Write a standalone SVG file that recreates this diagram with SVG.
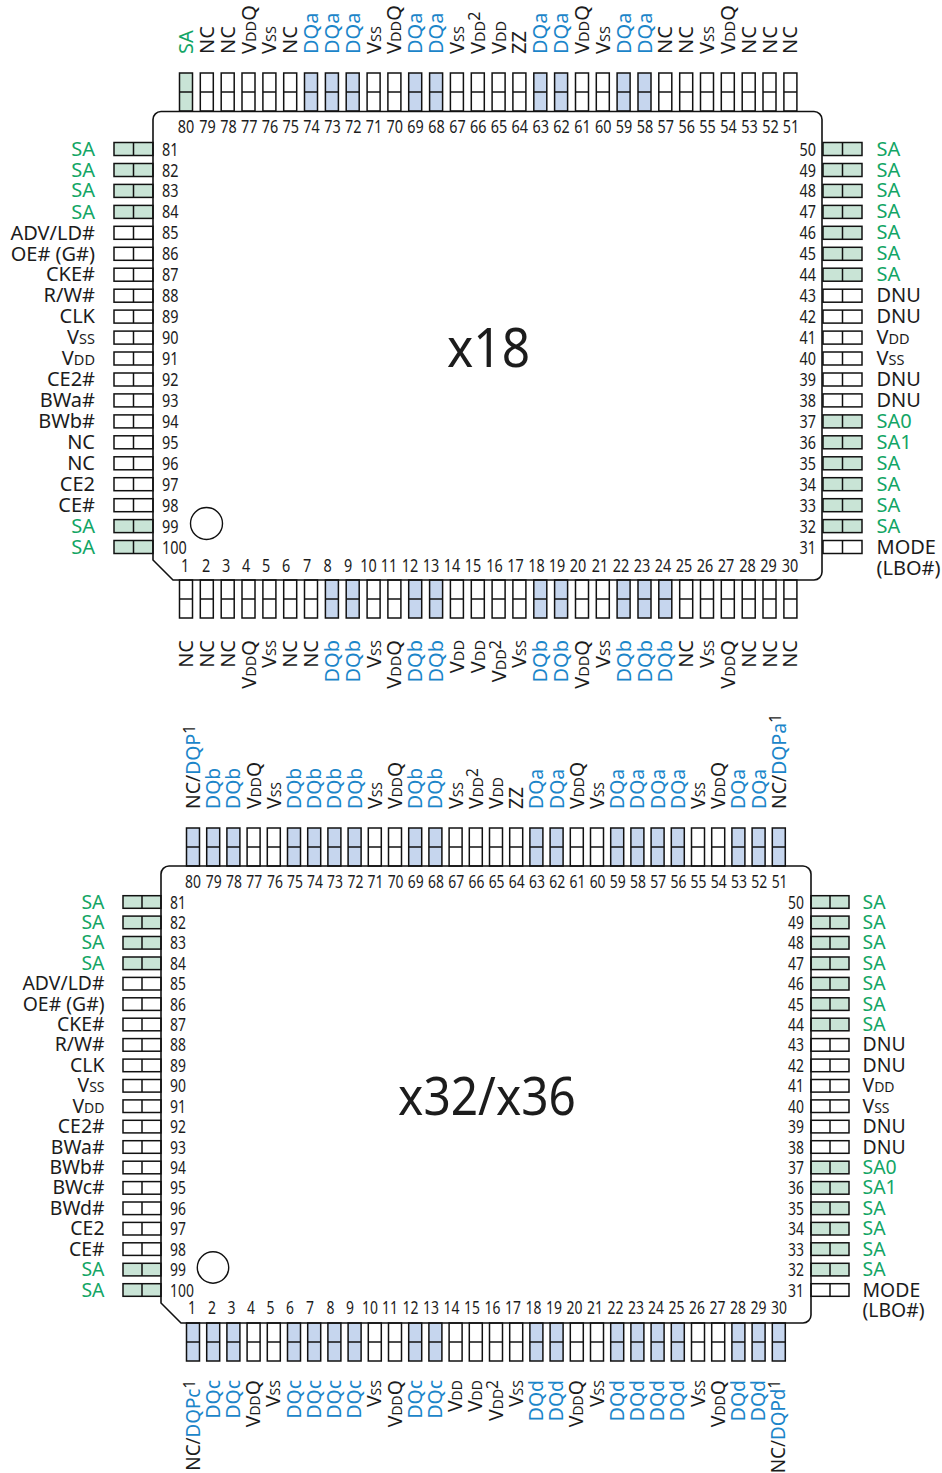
<svg xmlns="http://www.w3.org/2000/svg" width="942" height="1473" viewBox="0 0 942 1473">
<style>
text{font-family:"Noto Sans","Open Sans",sans-serif;font-size:20px;fill:#1c1c1c}
.n{font-size:18px;text-anchor:middle}
.ns{font-size:18px}
.ne{font-size:18px;text-anchor:end}
.e{text-anchor:end}
.g{fill:#12a565}
.q{fill:#1b85c9}
tspan.s{font-size:14.5px}
tspan.u{font-size:16px}
.big{text-anchor:middle}
.pin rect,.pin line{stroke:#111;stroke-width:1.5}
.w{fill:#fff}
.fg{fill:#c9e4d6}
.fb{fill:#c6d6ee}
.body{fill:none;stroke:#111;stroke-width:1.6}
.dot{fill:#fff;stroke:#111;stroke-width:1.4}
.c2 text{font-size:19.4px}
.c2 text.n,.c2 text.ns,.c2 text.ne{font-size:17.4px}
.c2 tspan.s{font-size:14px}
.c2 tspan.u{font-size:15.5px}
text.x18{font-size:54px}
text.x36{font-size:52px}
</style>
<defs>
<g id="v" class="pin"><rect x="-6.5" y="0" width="13" height="38"/><line x1="-6.5" y1="19" x2="6.5" y2="19"/></g>
<g id="h" class="pin"><rect x="0" y="-6.5" width="39" height="13"/><line x1="19.5" y1="-6.5" x2="19.5" y2="6.5"/></g>
<g id="h2" class="pin"><rect x="0" y="-6.3" width="38" height="12.6"/><line x1="19" y1="-6.3" x2="19" y2="6.3"/></g>
</defs>

<g id="chip-x18-top">
<g id="a80"><use href="#v" x="186" y="73" class="fg"/><text class="n" transform="translate(186 133) scale(.8 1)">80</text><text class="g" transform="translate(193 54) rotate(-90)">SA</text></g>
<g id="a79"><use href="#v" x="206.8" y="73" class="w"/><text class="n" transform="translate(207.5 133) scale(.8 1)">79</text><text transform="translate(213.8 54) rotate(-90)">NC</text></g>
<g id="a78"><use href="#v" x="227.7" y="73" class="w"/><text class="n" transform="translate(228.5 133) scale(.8 1)">78</text><text transform="translate(234.7 54) rotate(-90)">NC</text></g>
<g id="a77"><use href="#v" x="248.5" y="73" class="w"/><text class="n" transform="translate(249.2 133) scale(.8 1)">77</text><text transform="translate(255.5 54) rotate(-90)">V<tspan class="s">DD</tspan>Q</text></g>
<g id="a76"><use href="#v" x="269.4" y="73" class="w"/><text class="n" transform="translate(270 133) scale(.8 1)">76</text><text transform="translate(276.4 54) rotate(-90)">V<tspan class="s">SS</tspan></text></g>
<g id="a75"><use href="#v" x="290.2" y="73" class="w"/><text class="n" transform="translate(290.8 133) scale(.8 1)">75</text><text transform="translate(297.2 54) rotate(-90)">NC</text></g>
<g id="a74"><use href="#v" x="311" y="73" class="fb"/><text class="n" transform="translate(311.6 133) scale(.8 1)">74</text><text class="q" transform="translate(318 54) rotate(-90)">DQa</text></g>
<g id="a73"><use href="#v" x="331.9" y="73" class="fb"/><text class="n" transform="translate(332.5 133) scale(.8 1)">73</text><text class="q" transform="translate(338.9 54) rotate(-90)">DQa</text></g>
<g id="a72"><use href="#v" x="352.7" y="73" class="fb"/><text class="n" transform="translate(353.2 133) scale(.8 1)">72</text><text class="q" transform="translate(359.7 54) rotate(-90)">DQa</text></g>
<g id="a71"><use href="#v" x="373.6" y="73" class="w"/><text class="n" transform="translate(374 133) scale(.8 1)">71</text><text transform="translate(380.6 54) rotate(-90)">V<tspan class="s">SS</tspan></text></g>
<g id="a70"><use href="#v" x="394.4" y="73" class="w"/><text class="n" transform="translate(394.8 133) scale(.8 1)">70</text><text transform="translate(401.4 54) rotate(-90)">V<tspan class="s">DD</tspan>Q</text></g>
<g id="a69"><use href="#v" x="415.2" y="73" class="fb"/><text class="n" transform="translate(415.6 133) scale(.8 1)">69</text><text class="q" transform="translate(422.2 54) rotate(-90)">DQa</text></g>
<g id="a68"><use href="#v" x="436.1" y="73" class="fb"/><text class="n" transform="translate(436.6 133) scale(.8 1)">68</text><text class="q" transform="translate(443.1 54) rotate(-90)">DQa</text></g>
<g id="a67"><use href="#v" x="456.9" y="73" class="w"/><text class="n" transform="translate(457.4 133) scale(.8 1)">67</text><text transform="translate(463.9 54) rotate(-90)">V<tspan class="s">SS</tspan></text></g>
<g id="a66"><use href="#v" x="477.8" y="73" class="w"/><text class="n" transform="translate(478.2 133) scale(.8 1)">66</text><text transform="translate(484.8 54) rotate(-90)">V<tspan class="s">DD</tspan><tspan class="u" dy="-5">2</tspan></text></g>
<g id="a65"><use href="#v" x="498.6" y="73" class="w"/><text class="n" transform="translate(499 133) scale(.8 1)">65</text><text transform="translate(505.6 54) rotate(-90)">V<tspan class="s">DD</tspan></text></g>
<g id="a64"><use href="#v" x="519.4" y="73" class="w"/><text class="n" transform="translate(519.8 133) scale(.8 1)">64</text><text transform="translate(526.4 54) rotate(-90)">ZZ</text></g>
<g id="a63"><use href="#v" x="540.3" y="73" class="fb"/><text class="n" transform="translate(540.8 133) scale(.8 1)">63</text><text class="q" transform="translate(547.3 54) rotate(-90)">DQa</text></g>
<g id="a62"><use href="#v" x="561.1" y="73" class="fb"/><text class="n" transform="translate(561.6 133) scale(.8 1)">62</text><text class="q" transform="translate(568.1 54) rotate(-90)">DQa</text></g>
<g id="a61"><use href="#v" x="582" y="73" class="w"/><text class="n" transform="translate(582.4 133) scale(.8 1)">61</text><text transform="translate(589 54) rotate(-90)">V<tspan class="s">DD</tspan>Q</text></g>
<g id="a60"><use href="#v" x="602.8" y="73" class="w"/><text class="n" transform="translate(603.2 133) scale(.8 1)">60</text><text transform="translate(609.8 54) rotate(-90)">V<tspan class="s">SS</tspan></text></g>
<g id="a59"><use href="#v" x="623.6" y="73" class="fb"/><text class="n" transform="translate(624 133) scale(.8 1)">59</text><text class="q" transform="translate(630.6 54) rotate(-90)">DQa</text></g>
<g id="a58"><use href="#v" x="644.5" y="73" class="fb"/><text class="n" transform="translate(645 133) scale(.8 1)">58</text><text class="q" transform="translate(651.5 54) rotate(-90)">DQa</text></g>
<g id="a57"><use href="#v" x="665.3" y="73" class="w"/><text class="n" transform="translate(665.8 133) scale(.8 1)">57</text><text transform="translate(672.3 54) rotate(-90)">NC</text></g>
<g id="a56"><use href="#v" x="686.2" y="73" class="w"/><text class="n" transform="translate(686.8 133) scale(.8 1)">56</text><text transform="translate(693.2 54) rotate(-90)">NC</text></g>
<g id="a55"><use href="#v" x="707" y="73" class="w"/><text class="n" transform="translate(707.6 133) scale(.8 1)">55</text><text transform="translate(714 54) rotate(-90)">V<tspan class="s">SS</tspan></text></g>
<g id="a54"><use href="#v" x="727.8" y="73" class="w"/><text class="n" transform="translate(728.6 133) scale(.8 1)">54</text><text transform="translate(734.8 54) rotate(-90)">V<tspan class="s">DD</tspan>Q</text></g>
<g id="a53"><use href="#v" x="748.7" y="73" class="w"/><text class="n" transform="translate(749.6 133) scale(.8 1)">53</text><text transform="translate(755.7 54) rotate(-90)">NC</text></g>
<g id="a52"><use href="#v" x="769.5" y="73" class="w"/><text class="n" transform="translate(770.4 133) scale(.8 1)">52</text><text transform="translate(776.5 54) rotate(-90)">NC</text></g>
<g id="a51"><use href="#v" x="790.4" y="73" class="w"/><text class="n" transform="translate(791 133) scale(.8 1)">51</text><text transform="translate(797.4 54) rotate(-90)">NC</text></g>
</g>

<g id="chip-x18-bottom">
<g id="a1"><use href="#v" x="186" y="580" class="w"/><text class="n" transform="translate(185 572) scale(.8 1)">1</text><text class="e" transform="translate(193 640) rotate(-90)">NC</text></g>
<g id="a2"><use href="#v" x="206.8" y="580" class="w"/><text class="n" transform="translate(206 572) scale(.8 1)">2</text><text class="e" transform="translate(213.8 640) rotate(-90)">NC</text></g>
<g id="a3"><use href="#v" x="227.7" y="580" class="w"/><text class="n" transform="translate(226 572) scale(.8 1)">3</text><text class="e" transform="translate(234.7 640) rotate(-90)">NC</text></g>
<g id="a4"><use href="#v" x="248.5" y="580" class="w"/><text class="n" transform="translate(246 572) scale(.8 1)">4</text><text class="e" transform="translate(255.5 640) rotate(-90)">V<tspan class="s">DD</tspan>Q</text></g>
<g id="a5"><use href="#v" x="269.4" y="580" class="w"/><text class="n" transform="translate(266 572) scale(.8 1)">5</text><text class="e" transform="translate(276.4 640) rotate(-90)">V<tspan class="s">SS</tspan></text></g>
<g id="a6"><use href="#v" x="290.2" y="580" class="w"/><text class="n" transform="translate(286 572) scale(.8 1)">6</text><text class="e" transform="translate(297.2 640) rotate(-90)">NC</text></g>
<g id="a7"><use href="#v" x="311" y="580" class="w"/><text class="n" transform="translate(307 572) scale(.8 1)">7</text><text class="e" transform="translate(318 640) rotate(-90)">NC</text></g>
<g id="a8"><use href="#v" x="331.9" y="580" class="fb"/><text class="n" transform="translate(327.5 572) scale(.8 1)">8</text><text class="e q" transform="translate(338.9 640) rotate(-90)">DQb</text></g>
<g id="a9"><use href="#v" x="352.7" y="580" class="fb"/><text class="n" transform="translate(348 572) scale(.8 1)">9</text><text class="e q" transform="translate(359.7 640) rotate(-90)">DQb</text></g>
<g id="a10"><use href="#v" x="373.6" y="580" class="w"/><text class="n" transform="translate(368.5 572) scale(.8 1)">10</text><text class="e" transform="translate(380.6 640) rotate(-90)">V<tspan class="s">SS</tspan></text></g>
<g id="a11"><use href="#v" x="394.4" y="580" class="w"/><text class="n" transform="translate(389 572) scale(.8 1)">11</text><text class="e" transform="translate(401.4 640) rotate(-90)">V<tspan class="s">DD</tspan>Q</text></g>
<g id="a12"><use href="#v" x="415.2" y="580" class="fb"/><text class="n" transform="translate(410 572) scale(.8 1)">12</text><text class="e q" transform="translate(422.2 640) rotate(-90)">DQb</text></g>
<g id="a13"><use href="#v" x="436.1" y="580" class="fb"/><text class="n" transform="translate(431 572) scale(.8 1)">13</text><text class="e q" transform="translate(443.1 640) rotate(-90)">DQb</text></g>
<g id="a14"><use href="#v" x="456.9" y="580" class="w"/><text class="n" transform="translate(452 572) scale(.8 1)">14</text><text class="e" transform="translate(463.9 640) rotate(-90)">V<tspan class="s">DD</tspan></text></g>
<g id="a15"><use href="#v" x="477.8" y="580" class="w"/><text class="n" transform="translate(473 572) scale(.8 1)">15</text><text class="e" transform="translate(484.8 640) rotate(-90)">V<tspan class="s">DD</tspan></text></g>
<g id="a16"><use href="#v" x="498.6" y="580" class="w"/><text class="n" transform="translate(494.5 572) scale(.8 1)">16</text><text class="e" transform="translate(505.6 640) rotate(-90)">V<tspan class="s">DD</tspan><tspan class="u" dy="-5">2</tspan></text></g>
<g id="a17"><use href="#v" x="519.4" y="580" class="w"/><text class="n" transform="translate(515.5 572) scale(.8 1)">17</text><text class="e" transform="translate(526.4 640) rotate(-90)">V<tspan class="s">SS</tspan></text></g>
<g id="a18"><use href="#v" x="540.3" y="580" class="fb"/><text class="n" transform="translate(536.5 572) scale(.8 1)">18</text><text class="e q" transform="translate(547.3 640) rotate(-90)">DQb</text></g>
<g id="a19"><use href="#v" x="561.1" y="580" class="fb"/><text class="n" transform="translate(557 572) scale(.8 1)">19</text><text class="e q" transform="translate(568.1 640) rotate(-90)">DQb</text></g>
<g id="a20"><use href="#v" x="582" y="580" class="w"/><text class="n" transform="translate(578 572) scale(.8 1)">20</text><text class="e" transform="translate(589 640) rotate(-90)">V<tspan class="s">DD</tspan>Q</text></g>
<g id="a21"><use href="#v" x="602.8" y="580" class="w"/><text class="n" transform="translate(600 572) scale(.8 1)">21</text><text class="e" transform="translate(609.8 640) rotate(-90)">V<tspan class="s">SS</tspan></text></g>
<g id="a22"><use href="#v" x="623.6" y="580" class="fb"/><text class="n" transform="translate(621 572) scale(.8 1)">22</text><text class="e q" transform="translate(630.6 640) rotate(-90)">DQb</text></g>
<g id="a23"><use href="#v" x="644.5" y="580" class="fb"/><text class="n" transform="translate(642 572) scale(.8 1)">23</text><text class="e q" transform="translate(651.5 640) rotate(-90)">DQb</text></g>
<g id="a24"><use href="#v" x="665.3" y="580" class="fb"/><text class="n" transform="translate(663 572) scale(.8 1)">24</text><text class="e q" transform="translate(672.3 640) rotate(-90)">DQb</text></g>
<g id="a25"><use href="#v" x="686.2" y="580" class="w"/><text class="n" transform="translate(684 572) scale(.8 1)">25</text><text class="e" transform="translate(693.2 640) rotate(-90)">NC</text></g>
<g id="a26"><use href="#v" x="707" y="580" class="w"/><text class="n" transform="translate(705 572) scale(.8 1)">26</text><text class="e" transform="translate(714 640) rotate(-90)">V<tspan class="s">SS</tspan></text></g>
<g id="a27"><use href="#v" x="727.8" y="580" class="w"/><text class="n" transform="translate(726 572) scale(.8 1)">27</text><text class="e" transform="translate(734.8 640) rotate(-90)">V<tspan class="s">DD</tspan>Q</text></g>
<g id="a28"><use href="#v" x="748.7" y="580" class="w"/><text class="n" transform="translate(747.5 572) scale(.8 1)">28</text><text class="e" transform="translate(755.7 640) rotate(-90)">NC</text></g>
<g id="a29"><use href="#v" x="769.5" y="580" class="w"/><text class="n" transform="translate(768.5 572) scale(.8 1)">29</text><text class="e" transform="translate(776.5 640) rotate(-90)">NC</text></g>
<g id="a30"><use href="#v" x="790.4" y="580" class="w"/><text class="n" transform="translate(790 572) scale(.8 1)">30</text><text class="e" transform="translate(797.4 640) rotate(-90)">NC</text></g>
</g>

<g id="chip-x18-left">
<g id="a81"><use href="#h" x="114" y="149" class="fg"/><text class="ns" transform="translate(162 155.5) scale(.8 1)">81</text><text class="e g" x="95" y="155.5">SA</text></g>
<g id="a82"><use href="#h" x="114" y="170" class="fg"/><text class="ns" transform="translate(162 176.5) scale(.8 1)">82</text><text class="e g" x="95" y="176.5">SA</text></g>
<g id="a83"><use href="#h" x="114" y="190.9" class="fg"/><text class="ns" transform="translate(162 197.4) scale(.8 1)">83</text><text class="e g" x="95" y="197.4">SA</text></g>
<g id="a84"><use href="#h" x="114" y="211.9" class="fg"/><text class="ns" transform="translate(162 218.4) scale(.8 1)">84</text><text class="e g" x="95" y="218.9">SA</text></g>
<g id="a85"><use href="#h" x="114" y="232.8" class="w"/><text class="ns" transform="translate(162 239.3) scale(.8 1)">85</text><text class="e" x="95" y="239.8">ADV/LD#</text></g>
<g id="a86"><use href="#h" x="114" y="253.8" class="w"/><text class="ns" transform="translate(162 260.3) scale(.8 1)">86</text><text class="e" x="95" y="260.8">OE# (G#)</text></g>
<g id="a87"><use href="#h" x="114" y="274.7" class="w"/><text class="ns" transform="translate(162 281.2) scale(.8 1)">87</text><text class="e" x="95" y="281.2">CKE#</text></g>
<g id="a88"><use href="#h" x="114" y="295.7" class="w"/><text class="ns" transform="translate(162 302.2) scale(.8 1)">88</text><text class="e" x="95" y="302.2">R/W#</text></g>
<g id="a89"><use href="#h" x="114" y="316.6" class="w"/><text class="ns" transform="translate(162 323.1) scale(.8 1)">89</text><text class="e" x="95" y="323.1">CLK</text></g>
<g id="a90"><use href="#h" x="114" y="337.6" class="w"/><text class="ns" transform="translate(162 344.1) scale(.8 1)">90</text><text class="e" x="95" y="344.1">V<tspan class="s">SS</tspan></text></g>
<g id="a91"><use href="#h" x="114" y="358.5" class="w"/><text class="ns" transform="translate(162 365) scale(.8 1)">91</text><text class="e" x="95" y="365">V<tspan class="s">DD</tspan></text></g>
<g id="a92"><use href="#h" x="114" y="379.5" class="w"/><text class="ns" transform="translate(162 386) scale(.8 1)">92</text><text class="e" x="95" y="386">CE2#</text></g>
<g id="a93"><use href="#h" x="114" y="400.4" class="w"/><text class="ns" transform="translate(162 406.9) scale(.8 1)">93</text><text class="e" x="95" y="406.9">BWa#</text></g>
<g id="a94"><use href="#h" x="114" y="421.4" class="w"/><text class="ns" transform="translate(162 427.9) scale(.8 1)">94</text><text class="e" x="95" y="427.9">BWb#</text></g>
<g id="a95"><use href="#h" x="114" y="442.3" class="w"/><text class="ns" transform="translate(162 448.8) scale(.8 1)">95</text><text class="e" x="95" y="448.8">NC</text></g>
<g id="a96"><use href="#h" x="114" y="463.3" class="w"/><text class="ns" transform="translate(162 469.8) scale(.8 1)">96</text><text class="e" x="95" y="469.8">NC</text></g>
<g id="a97"><use href="#h" x="114" y="484.2" class="w"/><text class="ns" transform="translate(162 490.7) scale(.8 1)">97</text><text class="e" x="95" y="490.7">CE2</text></g>
<g id="a98"><use href="#h" x="114" y="505.2" class="w"/><text class="ns" transform="translate(162 511.7) scale(.8 1)">98</text><text class="e" x="95" y="511.7">CE#</text></g>
<g id="a99"><use href="#h" x="114" y="526.1" class="fg"/><text class="ns" transform="translate(162 532.6) scale(.8 1)">99</text><text class="e g" x="95" y="532.6">SA</text></g>
<g id="a100"><use href="#h" x="114" y="547" class="fg"/><text class="ns" transform="translate(162 553.5) scale(.8 1)">100</text><text class="e g" x="95" y="553.5">SA</text></g>
</g>

<g id="chip-x18-right">
<g id="a50"><use href="#h" x="823" y="149" class="fg"/><text class="ne" transform="translate(816 155.5) scale(.8 1)">50</text><text class="g" x="876.5" y="155.5">SA</text></g>
<g id="a49"><use href="#h" x="823" y="170" class="fg"/><text class="ne" transform="translate(816 176.5) scale(.8 1)">49</text><text class="g" x="876.5" y="176.5">SA</text></g>
<g id="a48"><use href="#h" x="823" y="190.9" class="fg"/><text class="ne" transform="translate(816 197.4) scale(.8 1)">48</text><text class="g" x="876.5" y="197.4">SA</text></g>
<g id="a47"><use href="#h" x="823" y="211.9" class="fg"/><text class="ne" transform="translate(816 218.4) scale(.8 1)">47</text><text class="g" x="876.5" y="218.4">SA</text></g>
<g id="a46"><use href="#h" x="823" y="232.8" class="fg"/><text class="ne" transform="translate(816 239.3) scale(.8 1)">46</text><text class="g" x="876.5" y="239.3">SA</text></g>
<g id="a45"><use href="#h" x="823" y="253.8" class="fg"/><text class="ne" transform="translate(816 260.3) scale(.8 1)">45</text><text class="g" x="876.5" y="260.3">SA</text></g>
<g id="a44"><use href="#h" x="823" y="274.7" class="fg"/><text class="ne" transform="translate(816 281.2) scale(.8 1)">44</text><text class="g" x="876.5" y="281.2">SA</text></g>
<g id="a43"><use href="#h" x="823" y="295.7" class="w"/><text class="ne" transform="translate(816 302.2) scale(.8 1)">43</text><text x="876.5" y="302.2">DNU</text></g>
<g id="a42"><use href="#h" x="823" y="316.6" class="w"/><text class="ne" transform="translate(816 323.1) scale(.8 1)">42</text><text x="876.5" y="323.1">DNU</text></g>
<g id="a41"><use href="#h" x="823" y="337.6" class="w"/><text class="ne" transform="translate(816 344.1) scale(.8 1)">41</text><text x="876.5" y="344.1">V<tspan class="s">DD</tspan></text></g>
<g id="a40"><use href="#h" x="823" y="358.5" class="w"/><text class="ne" transform="translate(816 365) scale(.8 1)">40</text><text x="876.5" y="365">V<tspan class="s">SS</tspan></text></g>
<g id="a39"><use href="#h" x="823" y="379.5" class="w"/><text class="ne" transform="translate(816 386) scale(.8 1)">39</text><text x="876.5" y="386">DNU</text></g>
<g id="a38"><use href="#h" x="823" y="400.4" class="w"/><text class="ne" transform="translate(816 406.9) scale(.8 1)">38</text><text x="876.5" y="406.9">DNU</text></g>
<g id="a37"><use href="#h" x="823" y="421.4" class="fg"/><text class="ne" transform="translate(816 427.9) scale(.8 1)">37</text><text class="g" x="876.5" y="427.9">SA0</text></g>
<g id="a36"><use href="#h" x="823" y="442.3" class="fg"/><text class="ne" transform="translate(816 448.8) scale(.8 1)">36</text><text class="g" x="876.5" y="448.8">SA1</text></g>
<g id="a35"><use href="#h" x="823" y="463.3" class="fg"/><text class="ne" transform="translate(816 469.8) scale(.8 1)">35</text><text class="g" x="876.5" y="469.8">SA</text></g>
<g id="a34"><use href="#h" x="823" y="484.2" class="fg"/><text class="ne" transform="translate(816 490.7) scale(.8 1)">34</text><text class="g" x="876.5" y="490.7">SA</text></g>
<g id="a33"><use href="#h" x="823" y="505.2" class="fg"/><text class="ne" transform="translate(816 511.7) scale(.8 1)">33</text><text class="g" x="876.5" y="511.7">SA</text></g>
<g id="a32"><use href="#h" x="823" y="526.1" class="fg"/><text class="ne" transform="translate(816 532.6) scale(.8 1)">32</text><text class="g" x="876.5" y="532.6">SA</text></g>
<g id="a31"><use href="#h" x="823" y="547" class="w"/><text class="ne" transform="translate(816 553.5) scale(.8 1)">31</text><text x="876.5" y="553.5">MODE</text><text x="876.5" y="574.5">(LBO#)</text></g>
</g>

<g id="chip-x18-body">
<path class="body" d="M161 111.5H814a8 8 0 0 1 8 8V572a8 8 0 0 1-8 8H173L153 560V119.5a8 8 0 0 1 8-8Z"/>
<circle class="dot" cx="206.5" cy="523.5" r="16"/>
<text class="big x18" transform="translate(488.5 367) scale(.92 1)">x18</text>
</g>

<g id="chip-x36-top" class="c2">
<g id="b80"><use href="#v" x="193" y="828" class="fb"/><text class="n" transform="translate(193 888) scale(.8 1)">80</text><text transform="translate(200 809) rotate(-90)">NC/<tspan class="q">DQP</tspan><tspan class="u" dy="-5">1</tspan></text></g>
<g id="b79"><use href="#v" x="213.2" y="828" class="fb"/><text class="n" transform="translate(213.8 888) scale(.8 1)">79</text><text class="q" transform="translate(220.2 809) rotate(-90)">DQb</text></g>
<g id="b78"><use href="#v" x="233.4" y="828" class="fb"/><text class="n" transform="translate(234 888) scale(.8 1)">78</text><text class="q" transform="translate(240.4 809) rotate(-90)">DQb</text></g>
<g id="b77"><use href="#v" x="253.6" y="828" class="w"/><text class="n" transform="translate(254.2 888) scale(.8 1)">77</text><text transform="translate(260.6 809) rotate(-90)">V<tspan class="s">DD</tspan>Q</text></g>
<g id="b76"><use href="#v" x="273.8" y="828" class="w"/><text class="n" transform="translate(275 888) scale(.8 1)">76</text><text transform="translate(280.8 809) rotate(-90)">V<tspan class="s">SS</tspan></text></g>
<g id="b75"><use href="#v" x="294" y="828" class="fb"/><text class="n" transform="translate(295 888) scale(.8 1)">75</text><text class="q" transform="translate(301 809) rotate(-90)">DQb</text></g>
<g id="b74"><use href="#v" x="314.2" y="828" class="fb"/><text class="n" transform="translate(315 888) scale(.8 1)">74</text><text class="q" transform="translate(321.2 809) rotate(-90)">DQb</text></g>
<g id="b73"><use href="#v" x="334.4" y="828" class="fb"/><text class="n" transform="translate(335 888) scale(.8 1)">73</text><text class="q" transform="translate(341.4 809) rotate(-90)">DQb</text></g>
<g id="b72"><use href="#v" x="354.6" y="828" class="fb"/><text class="n" transform="translate(355.4 888) scale(.8 1)">72</text><text class="q" transform="translate(361.6 809) rotate(-90)">DQb</text></g>
<g id="b71"><use href="#v" x="374.8" y="828" class="w"/><text class="n" transform="translate(375.4 888) scale(.8 1)">71</text><text transform="translate(381.8 809) rotate(-90)">V<tspan class="s">SS</tspan></text></g>
<g id="b70"><use href="#v" x="395" y="828" class="w"/><text class="n" transform="translate(395.6 888) scale(.8 1)">70</text><text transform="translate(402 809) rotate(-90)">V<tspan class="s">DD</tspan>Q</text></g>
<g id="b69"><use href="#v" x="415.2" y="828" class="fb"/><text class="n" transform="translate(415.8 888) scale(.8 1)">69</text><text class="q" transform="translate(422.2 809) rotate(-90)">DQb</text></g>
<g id="b68"><use href="#v" x="435.4" y="828" class="fb"/><text class="n" transform="translate(436 888) scale(.8 1)">68</text><text class="q" transform="translate(442.4 809) rotate(-90)">DQb</text></g>
<g id="b67"><use href="#v" x="455.6" y="828" class="w"/><text class="n" transform="translate(456.2 888) scale(.8 1)">67</text><text transform="translate(462.6 809) rotate(-90)">V<tspan class="s">SS</tspan></text></g>
<g id="b66"><use href="#v" x="475.8" y="828" class="w"/><text class="n" transform="translate(476.4 888) scale(.8 1)">66</text><text transform="translate(482.8 809) rotate(-90)">V<tspan class="s">DD</tspan><tspan class="u" dy="-5">2</tspan></text></g>
<g id="b65"><use href="#v" x="496" y="828" class="w"/><text class="n" transform="translate(496.6 888) scale(.8 1)">65</text><text transform="translate(503 809) rotate(-90)">V<tspan class="s">DD</tspan></text></g>
<g id="b64"><use href="#v" x="516.2" y="828" class="w"/><text class="n" transform="translate(516.8 888) scale(.8 1)">64</text><text transform="translate(523.2 809) rotate(-90)">ZZ</text></g>
<g id="b63"><use href="#v" x="536.4" y="828" class="fb"/><text class="n" transform="translate(537 888) scale(.8 1)">63</text><text class="q" transform="translate(543.4 809) rotate(-90)">DQa</text></g>
<g id="b62"><use href="#v" x="556.6" y="828" class="fb"/><text class="n" transform="translate(557.2 888) scale(.8 1)">62</text><text class="q" transform="translate(563.6 809) rotate(-90)">DQa</text></g>
<g id="b61"><use href="#v" x="576.8" y="828" class="w"/><text class="n" transform="translate(577.4 888) scale(.8 1)">61</text><text transform="translate(583.8 809) rotate(-90)">V<tspan class="s">DD</tspan>Q</text></g>
<g id="b60"><use href="#v" x="597" y="828" class="w"/><text class="n" transform="translate(597.6 888) scale(.8 1)">60</text><text transform="translate(604 809) rotate(-90)">V<tspan class="s">SS</tspan></text></g>
<g id="b59"><use href="#v" x="617.2" y="828" class="fb"/><text class="n" transform="translate(617.8 888) scale(.8 1)">59</text><text class="q" transform="translate(624.2 809) rotate(-90)">DQa</text></g>
<g id="b58"><use href="#v" x="637.4" y="828" class="fb"/><text class="n" transform="translate(638 888) scale(.8 1)">58</text><text class="q" transform="translate(644.4 809) rotate(-90)">DQa</text></g>
<g id="b57"><use href="#v" x="657.6" y="828" class="fb"/><text class="n" transform="translate(658.2 888) scale(.8 1)">57</text><text class="q" transform="translate(664.6 809) rotate(-90)">DQa</text></g>
<g id="b56"><use href="#v" x="677.8" y="828" class="fb"/><text class="n" transform="translate(678.4 888) scale(.8 1)">56</text><text class="q" transform="translate(684.8 809) rotate(-90)">DQa</text></g>
<g id="b55"><use href="#v" x="698" y="828" class="w"/><text class="n" transform="translate(698.4 888) scale(.8 1)">55</text><text transform="translate(705 809) rotate(-90)">V<tspan class="s">SS</tspan></text></g>
<g id="b54"><use href="#v" x="718.2" y="828" class="w"/><text class="n" transform="translate(718.8 888) scale(.8 1)">54</text><text transform="translate(725.2 809) rotate(-90)">V<tspan class="s">DD</tspan>Q</text></g>
<g id="b53"><use href="#v" x="738.4" y="828" class="fb"/><text class="n" transform="translate(739 888) scale(.8 1)">53</text><text class="q" transform="translate(745.4 809) rotate(-90)">DQa</text></g>
<g id="b52"><use href="#v" x="758.6" y="828" class="fb"/><text class="n" transform="translate(759.2 888) scale(.8 1)">52</text><text class="q" transform="translate(765.6 809) rotate(-90)">DQa</text></g>
<g id="b51"><use href="#v" x="778.8" y="828" class="fb"/><text class="n" transform="translate(779.6 888) scale(.8 1)">51</text><text transform="translate(785.8 809) rotate(-90)">NC/<tspan class="q">DQPa</tspan><tspan class="u" dy="-5">1</tspan></text></g>
</g>

<g id="chip-x36-bottom" class="c2">
<g id="b1"><use href="#v" x="193" y="1323" class="fb"/><text class="n" transform="translate(192 1314) scale(.8 1)">1</text><text class="e" transform="translate(199.5 1380) rotate(-90) scale(.97 1)">NC/<tspan class="q">DQPc</tspan><tspan class="u" dy="-5">1</tspan></text></g>
<g id="b2"><use href="#v" x="213.2" y="1323" class="fb"/><text class="n" transform="translate(212 1314) scale(.8 1)">2</text><text class="e q" transform="translate(219.7 1380) rotate(-90)">DQc</text></g>
<g id="b3"><use href="#v" x="233.4" y="1323" class="fb"/><text class="n" transform="translate(231.5 1314) scale(.8 1)">3</text><text class="e q" transform="translate(239.9 1380) rotate(-90)">DQc</text></g>
<g id="b4"><use href="#v" x="253.6" y="1323" class="w"/><text class="n" transform="translate(251 1314) scale(.8 1)">4</text><text class="e" transform="translate(260.1 1380) rotate(-90)">V<tspan class="s">DD</tspan>Q</text></g>
<g id="b5"><use href="#v" x="273.8" y="1323" class="w"/><text class="n" transform="translate(270.5 1314) scale(.8 1)">5</text><text class="e" transform="translate(280.3 1380) rotate(-90)">V<tspan class="s">SS</tspan></text></g>
<g id="b6"><use href="#v" x="294" y="1323" class="fb"/><text class="n" transform="translate(290 1314) scale(.8 1)">6</text><text class="e q" transform="translate(300.5 1380) rotate(-90)">DQc</text></g>
<g id="b7"><use href="#v" x="314.2" y="1323" class="fb"/><text class="n" transform="translate(310 1314) scale(.8 1)">7</text><text class="e q" transform="translate(320.7 1380) rotate(-90)">DQc</text></g>
<g id="b8"><use href="#v" x="334.4" y="1323" class="fb"/><text class="n" transform="translate(330.5 1314) scale(.8 1)">8</text><text class="e q" transform="translate(340.9 1380) rotate(-90)">DQc</text></g>
<g id="b9"><use href="#v" x="354.6" y="1323" class="fb"/><text class="n" transform="translate(350 1314) scale(.8 1)">9</text><text class="e q" transform="translate(361.1 1380) rotate(-90)">DQc</text></g>
<g id="b10"><use href="#v" x="374.8" y="1323" class="w"/><text class="n" transform="translate(370 1314) scale(.8 1)">10</text><text class="e" transform="translate(381.3 1380) rotate(-90)">V<tspan class="s">SS</tspan></text></g>
<g id="b11"><use href="#v" x="395" y="1323" class="w"/><text class="n" transform="translate(390 1314) scale(.8 1)">11</text><text class="e" transform="translate(401.5 1380) rotate(-90)">V<tspan class="s">DD</tspan>Q</text></g>
<g id="b12"><use href="#v" x="415.2" y="1323" class="fb"/><text class="n" transform="translate(410.5 1314) scale(.8 1)">12</text><text class="e q" transform="translate(421.7 1380) rotate(-90)">DQc</text></g>
<g id="b13"><use href="#v" x="435.4" y="1323" class="fb"/><text class="n" transform="translate(431 1314) scale(.8 1)">13</text><text class="e q" transform="translate(441.9 1380) rotate(-90)">DQc</text></g>
<g id="b14"><use href="#v" x="455.6" y="1323" class="w"/><text class="n" transform="translate(451.5 1314) scale(.8 1)">14</text><text class="e" transform="translate(462.1 1380) rotate(-90)">V<tspan class="s">DD</tspan></text></g>
<g id="b15"><use href="#v" x="475.8" y="1323" class="w"/><text class="n" transform="translate(472 1314) scale(.8 1)">15</text><text class="e" transform="translate(482.3 1380) rotate(-90)">V<tspan class="s">DD</tspan></text></g>
<g id="b16"><use href="#v" x="496" y="1323" class="w"/><text class="n" transform="translate(492.5 1314) scale(.8 1)">16</text><text class="e" transform="translate(502.5 1380) rotate(-90)">V<tspan class="s">DD</tspan><tspan class="u" dy="-5">2</tspan></text></g>
<g id="b17"><use href="#v" x="516.2" y="1323" class="w"/><text class="n" transform="translate(513 1314) scale(.8 1)">17</text><text class="e" transform="translate(522.7 1380) rotate(-90)">V<tspan class="s">SS</tspan></text></g>
<g id="b18"><use href="#v" x="536.4" y="1323" class="fb"/><text class="n" transform="translate(533.5 1314) scale(.8 1)">18</text><text class="e q" transform="translate(542.9 1380) rotate(-90)">DQd</text></g>
<g id="b19"><use href="#v" x="556.6" y="1323" class="fb"/><text class="n" transform="translate(554 1314) scale(.8 1)">19</text><text class="e q" transform="translate(563.1 1380) rotate(-90)">DQd</text></g>
<g id="b20"><use href="#v" x="576.8" y="1323" class="w"/><text class="n" transform="translate(574.5 1314) scale(.8 1)">20</text><text class="e" transform="translate(583.3 1380) rotate(-90)">V<tspan class="s">DD</tspan>Q</text></g>
<g id="b21"><use href="#v" x="597" y="1323" class="w"/><text class="n" transform="translate(595 1314) scale(.8 1)">21</text><text class="e" transform="translate(603.5 1380) rotate(-90)">V<tspan class="s">SS</tspan></text></g>
<g id="b22"><use href="#v" x="617.2" y="1323" class="fb"/><text class="n" transform="translate(615.5 1314) scale(.8 1)">22</text><text class="e q" transform="translate(623.7 1380) rotate(-90)">DQd</text></g>
<g id="b23"><use href="#v" x="637.4" y="1323" class="fb"/><text class="n" transform="translate(636 1314) scale(.8 1)">23</text><text class="e q" transform="translate(643.9 1380) rotate(-90)">DQd</text></g>
<g id="b24"><use href="#v" x="657.6" y="1323" class="fb"/><text class="n" transform="translate(656 1314) scale(.8 1)">24</text><text class="e q" transform="translate(664.1 1380) rotate(-90)">DQd</text></g>
<g id="b25"><use href="#v" x="677.8" y="1323" class="fb"/><text class="n" transform="translate(676.5 1314) scale(.8 1)">25</text><text class="e q" transform="translate(684.3 1380) rotate(-90)">DQd</text></g>
<g id="b26"><use href="#v" x="698" y="1323" class="w"/><text class="n" transform="translate(697 1314) scale(.8 1)">26</text><text class="e" transform="translate(704.5 1380) rotate(-90)">V<tspan class="s">SS</tspan></text></g>
<g id="b27"><use href="#v" x="718.2" y="1323" class="w"/><text class="n" transform="translate(717.5 1314) scale(.8 1)">27</text><text class="e" transform="translate(724.7 1380) rotate(-90)">V<tspan class="s">DD</tspan>Q</text></g>
<g id="b28"><use href="#v" x="738.4" y="1323" class="fb"/><text class="n" transform="translate(738 1314) scale(.8 1)">28</text><text class="e q" transform="translate(744.9 1380) rotate(-90)">DQd</text></g>
<g id="b29"><use href="#v" x="758.6" y="1323" class="fb"/><text class="n" transform="translate(758.5 1314) scale(.8 1)">29</text><text class="e q" transform="translate(765.1 1380) rotate(-90)">DQd</text></g>
<g id="b30"><use href="#v" x="778.8" y="1323" class="fb"/><text class="n" transform="translate(779 1314) scale(.8 1)">30</text><text class="e" transform="translate(785.3 1380) rotate(-90) scale(.97 1)">NC/<tspan class="q">DQPd</tspan><tspan class="u" dy="-5">1</tspan></text></g>
</g>

<g id="chip-x36-left" class="c2">
<g id="b81"><use href="#h2" x="123" y="902" class="fg"/><text class="ns" transform="translate(170 908.5) scale(.8 1)">81</text><text class="e g" x="104.5" y="908.5">SA</text></g>
<g id="b82"><use href="#h2" x="123" y="922.4" class="fg"/><text class="ns" transform="translate(170 928.9) scale(.8 1)">82</text><text class="e g" x="104.5" y="928.9">SA</text></g>
<g id="b83"><use href="#h2" x="123" y="942.8" class="fg"/><text class="ns" transform="translate(170 949.3) scale(.8 1)">83</text><text class="e g" x="104.5" y="949.3">SA</text></g>
<g id="b84"><use href="#h2" x="123" y="963.3" class="fg"/><text class="ns" transform="translate(170 969.8) scale(.8 1)">84</text><text class="e g" x="104.5" y="969.8">SA</text></g>
<g id="b85"><use href="#h2" x="123" y="983.7" class="w"/><text class="ns" transform="translate(170 990.2) scale(.8 1)">85</text><text class="e" x="104.5" y="990.2">ADV/LD#</text></g>
<g id="b86"><use href="#h2" x="123" y="1004.1" class="w"/><text class="ns" transform="translate(170 1010.6) scale(.8 1)">86</text><text class="e" x="104.5" y="1010.6">OE# (G#)</text></g>
<g id="b87"><use href="#h2" x="123" y="1024.5" class="w"/><text class="ns" transform="translate(170 1031) scale(.8 1)">87</text><text class="e" x="104.5" y="1031">CKE#</text></g>
<g id="b88"><use href="#h2" x="123" y="1044.9" class="w"/><text class="ns" transform="translate(170 1051.4) scale(.8 1)">88</text><text class="e" x="104.5" y="1051.4">R/W#</text></g>
<g id="b89"><use href="#h2" x="123" y="1065.4" class="w"/><text class="ns" transform="translate(170 1071.9) scale(.8 1)">89</text><text class="e" x="104.5" y="1071.9">CLK</text></g>
<g id="b90"><use href="#h2" x="123" y="1085.8" class="w"/><text class="ns" transform="translate(170 1092.3) scale(.8 1)">90</text><text class="e" x="104.5" y="1092.3">V<tspan class="s">SS</tspan></text></g>
<g id="b91"><use href="#h2" x="123" y="1106.2" class="w"/><text class="ns" transform="translate(170 1112.7) scale(.8 1)">91</text><text class="e" x="104.5" y="1112.7">V<tspan class="s">DD</tspan></text></g>
<g id="b92"><use href="#h2" x="123" y="1126.6" class="w"/><text class="ns" transform="translate(170 1133.1) scale(.8 1)">92</text><text class="e" x="104.5" y="1133.1">CE2#</text></g>
<g id="b93"><use href="#h2" x="123" y="1147" class="w"/><text class="ns" transform="translate(170 1153.5) scale(.8 1)">93</text><text class="e" x="104.5" y="1153.5">BWa#</text></g>
<g id="b94"><use href="#h2" x="123" y="1167.5" class="w"/><text class="ns" transform="translate(170 1174) scale(.8 1)">94</text><text class="e" x="104.5" y="1174">BWb#</text></g>
<g id="b95"><use href="#h2" x="123" y="1187.9" class="w"/><text class="ns" transform="translate(170 1194.4) scale(.8 1)">95</text><text class="e" x="104.5" y="1194.4">BWc#</text></g>
<g id="b96"><use href="#h2" x="123" y="1208.3" class="w"/><text class="ns" transform="translate(170 1214.8) scale(.8 1)">96</text><text class="e" x="104.5" y="1214.8">BWd#</text></g>
<g id="b97"><use href="#h2" x="123" y="1228.7" class="w"/><text class="ns" transform="translate(170 1235.2) scale(.8 1)">97</text><text class="e" x="104.5" y="1235.2">CE2</text></g>
<g id="b98"><use href="#h2" x="123" y="1249.1" class="w"/><text class="ns" transform="translate(170 1255.6) scale(.8 1)">98</text><text class="e" x="104.5" y="1255.6">CE#</text></g>
<g id="b99"><use href="#h2" x="123" y="1269.6" class="fg"/><text class="ns" transform="translate(170 1276.1) scale(.8 1)">99</text><text class="e g" x="104.5" y="1276.1">SA</text></g>
<g id="b100"><use href="#h2" x="123" y="1290" class="fg"/><text class="ns" transform="translate(170 1296.5) scale(.8 1)">100</text><text class="e g" x="104.5" y="1296.5">SA</text></g>
</g>

<g id="chip-x36-right" class="c2">
<g id="b50"><use href="#h2" x="811" y="902" class="fg"/><text class="ne" transform="translate(804 908.5) scale(.8 1)">50</text><text class="g" x="862.5" y="908.5">SA</text></g>
<g id="b49"><use href="#h2" x="811" y="922.4" class="fg"/><text class="ne" transform="translate(804 928.9) scale(.8 1)">49</text><text class="g" x="862.5" y="928.9">SA</text></g>
<g id="b48"><use href="#h2" x="811" y="942.8" class="fg"/><text class="ne" transform="translate(804 949.3) scale(.8 1)">48</text><text class="g" x="862.5" y="949.3">SA</text></g>
<g id="b47"><use href="#h2" x="811" y="963.3" class="fg"/><text class="ne" transform="translate(804 969.8) scale(.8 1)">47</text><text class="g" x="862.5" y="969.8">SA</text></g>
<g id="b46"><use href="#h2" x="811" y="983.7" class="fg"/><text class="ne" transform="translate(804 990.2) scale(.8 1)">46</text><text class="g" x="862.5" y="990.2">SA</text></g>
<g id="b45"><use href="#h2" x="811" y="1004.1" class="fg"/><text class="ne" transform="translate(804 1010.6) scale(.8 1)">45</text><text class="g" x="862.5" y="1010.6">SA</text></g>
<g id="b44"><use href="#h2" x="811" y="1024.5" class="fg"/><text class="ne" transform="translate(804 1031) scale(.8 1)">44</text><text class="g" x="862.5" y="1031">SA</text></g>
<g id="b43"><use href="#h2" x="811" y="1044.9" class="w"/><text class="ne" transform="translate(804 1051.4) scale(.8 1)">43</text><text x="862.5" y="1051.4">DNU</text></g>
<g id="b42"><use href="#h2" x="811" y="1065.4" class="w"/><text class="ne" transform="translate(804 1071.9) scale(.8 1)">42</text><text x="862.5" y="1071.9">DNU</text></g>
<g id="b41"><use href="#h2" x="811" y="1085.8" class="w"/><text class="ne" transform="translate(804 1092.3) scale(.8 1)">41</text><text x="862.5" y="1092.3">V<tspan class="s">DD</tspan></text></g>
<g id="b40"><use href="#h2" x="811" y="1106.2" class="w"/><text class="ne" transform="translate(804 1112.7) scale(.8 1)">40</text><text x="862.5" y="1112.7">V<tspan class="s">SS</tspan></text></g>
<g id="b39"><use href="#h2" x="811" y="1126.6" class="w"/><text class="ne" transform="translate(804 1133.1) scale(.8 1)">39</text><text x="862.5" y="1133.1">DNU</text></g>
<g id="b38"><use href="#h2" x="811" y="1147" class="w"/><text class="ne" transform="translate(804 1153.5) scale(.8 1)">38</text><text x="862.5" y="1153.5">DNU</text></g>
<g id="b37"><use href="#h2" x="811" y="1167.5" class="fg"/><text class="ne" transform="translate(804 1174) scale(.8 1)">37</text><text class="g" x="862.5" y="1174">SA0</text></g>
<g id="b36"><use href="#h2" x="811" y="1187.9" class="fg"/><text class="ne" transform="translate(804 1194.4) scale(.8 1)">36</text><text class="g" x="862.5" y="1194.4">SA1</text></g>
<g id="b35"><use href="#h2" x="811" y="1208.3" class="fg"/><text class="ne" transform="translate(804 1214.8) scale(.8 1)">35</text><text class="g" x="862.5" y="1214.8">SA</text></g>
<g id="b34"><use href="#h2" x="811" y="1228.7" class="fg"/><text class="ne" transform="translate(804 1235.2) scale(.8 1)">34</text><text class="g" x="862.5" y="1235.2">SA</text></g>
<g id="b33"><use href="#h2" x="811" y="1249.1" class="fg"/><text class="ne" transform="translate(804 1255.6) scale(.8 1)">33</text><text class="g" x="862.5" y="1255.6">SA</text></g>
<g id="b32"><use href="#h2" x="811" y="1269.6" class="fg"/><text class="ne" transform="translate(804 1276.1) scale(.8 1)">32</text><text class="g" x="862.5" y="1276.1">SA</text></g>
<g id="b31"><use href="#h2" x="811" y="1290" class="w"/><text class="ne" transform="translate(804 1296.5) scale(.8 1)">31</text><text x="862.5" y="1296.5">MODE</text><text x="862.5" y="1317">(LBO#)</text></g>
</g>

<g id="chip-x36-body">
<path class="body" d="M169 866H803a8 8 0 0 1 8 8V1315a8 8 0 0 1-8 8H181L161 1303V874a8 8 0 0 1 8-8Z"/>
<circle class="dot" cx="213" cy="1267.5" r="15.7"/>
<text class="big x36" transform="translate(487 1115) scale(.92 1)">x32/x36</text>
</g>
</svg>
